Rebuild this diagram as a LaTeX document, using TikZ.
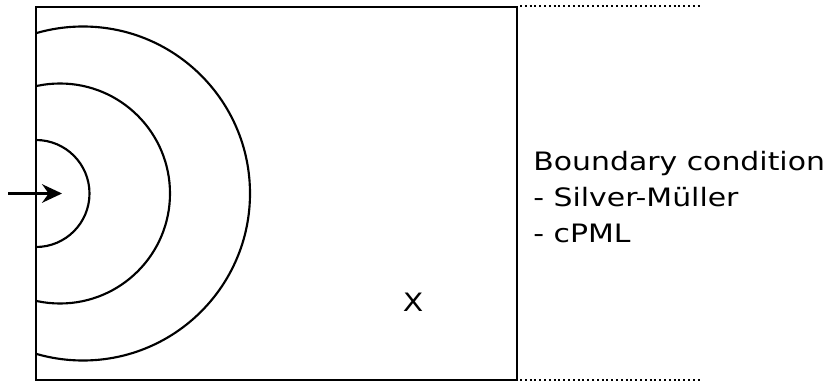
\documentclass[tikz,border=0pt]{standalone}
\usepackage{fontspec}
\setmainfont{DejaVu Sans}
\usetikzlibrary{arrows.meta}
\begin{document}
\begin{tikzpicture}[x=0.75pt,y=-0.75pt,
  wall/.style={line width=1.6pt},
  wave/.style={line width=1.6pt},
  farfield/.style={line width=1.6pt,dash pattern=on 1.5pt off 2.1pt},
  lbl/.style={inner sep=0pt,font=\fontsize{19pt}{27pt}\selectfont,xscale=1.18}]
\useasboundingbox (0,0) rectangle (825,381);
% computational domain
\coordinate (tl) at (36,7);
\coordinate (br) at (517,380);
\draw[wall] (tl) rectangle (br);
% wave fronts leaving the source, cut by the left wall
\begin{scope}
  \clip (36,0) rectangle (517,381);
  \draw[wave] (36,193.5) circle [radius=53.5];
  \draw[wave] (60,193.5) circle [radius=110];
  \draw[wave] (83,193.5) circle [radius=167];
\end{scope}
% incoming excitation
\coordinate (src) at (8,193.5);
\coordinate (inj) at (62,193.5);
\draw[line width=1.6pt,-{Stealth[length=15pt,width=14pt,inset=5pt]}] (src) -- (inj);
% open boundary continuing to the right
\coordinate (t1) at (520,6);
\coordinate (t2) at (702,6);
\coordinate (b1) at (520,380);
\coordinate (b2) at (702,380);
\draw[farfield] (t1) -- (t2);
\draw[farfield] (b1) -- (b2);
% labels
\node[lbl,anchor=base west] (bc1) at (533,171) {Boundary condition};
\node[lbl,anchor=base west] (bc2) at (533,207) {- Silver-Müller};
\node[lbl,anchor=base west] (bc3) at (533,243) {- cPML};
\node[lbl,anchor=base] (probe) at (413,311.5) {X};
\end{tikzpicture}
\end{document}
